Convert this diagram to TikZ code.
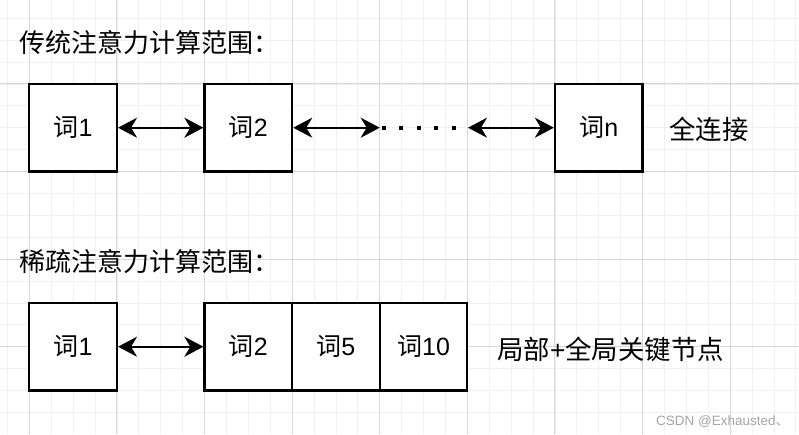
\documentclass[tikz,border=0pt]{standalone}
\usepackage{fontspec}
\setmainfont{Liberation Sans}
\newfontfamily\cjk{Noto Sans CJK SC}
\usetikzlibrary{arrows.meta}
\tikzset{
  minorgrid/.style={draw=black!6, line width=0.8pt},
  majorgrid/.style={draw=black!16, line width=0.9pt},
  wordbox/.style={draw=black, line width=2.3pt, fill=white, minimum width=87.6pt, minimum height=87.6pt, inner sep=0pt, font=\fontsize{25}{29}\selectfont},
  link/.style={line width=2.2pt, {Stealth[length=19pt,width=20pt,inset=6pt]}-{Stealth[length=19pt,width=20pt,inset=6pt]}},
  dotsline/.style={line width=4pt, dash pattern=on 4pt off 13.6pt},
  titletext/.style={anchor=west, inner sep=0pt, font=\fontsize{26}{30}\selectfont},
  sidetext/.style={anchor=west, inner sep=0pt, font=\fontsize{26.4}{30}\selectfont},
  marktext/.style={anchor=west, inner sep=0pt, text=black!35, font=\fontsize{13.5}{15}\selectfont}
}
\begin{document}
\begin{tikzpicture}[x=1pt,y=-1pt]
\useasboundingbox (0,0) rectangle (799,434);
\fill[white] (0,0) rectangle (799,434);
% grid
\foreach \k in {-1,...,35} \draw[minorgrid] ({29.3+\k*21.9},0) -- ({29.3+\k*21.9},434);
\foreach \k in {1,...,19} \draw[minorgrid] (0,{-3.7+\k*21.9}) -- (799,{-3.7+\k*21.9});
\foreach \k in {0,...,8} \draw[majorgrid] ({29.3+\k*87.6},0) -- ({29.3+\k*87.6},434);
\foreach \k in {1,...,4} \draw[majorgrid] (0,{-3.7+\k*87.6}) -- (799,{-3.7+\k*87.6});

% titles
\node[titletext] (t1) at (19,43) {\cjk 传统注意力计算范围：};
\node[titletext] (t2) at (19,262) {\cjk 稀疏注意力计算范围：};

% row 1
\node[wordbox] (a1) at (73.1,127.7) {{\cjk 词}1};
\node[wordbox] (a2) at (248.3,127.7) {{\cjk 词}2};
\node[wordbox] (an) at (598.8,127.7) {{\cjk 词}n};
\coordinate (d1) at (379.7,127.7);
\coordinate (d1b) at (381.5,127.7);
\coordinate (d2) at (468,127.7);
\draw[link] (a1) -- (a2);
\draw[link] (a2) -- (d1);
\draw[dotsline] (d1b) -- (d2);
\draw[link] (d2) -- (an);
\node[sidetext] (s1) at (669,129) {\cjk 全连接};

% row 2
\node[wordbox] (b1) at (73.1,346.7) {{\cjk 词}1};
\node[wordbox] (b2) at (248.3,346.7) {{\cjk 词}2};
\node[wordbox] (b5) at (335.9,346.7) {{\cjk 词}5};
\node[wordbox] (b10) at (423.5,346.7) {{\cjk 词}10};
\draw[link] (b1) -- (b2);
\node[sidetext] (s2) at (497,349) {{\cjk 局部}+{\cjk 全局关键节点}};

\node[marktext] (wm) at (656,422) {CSDN @Exhausted{\cjk 、}};
\end{tikzpicture}
\end{document}
